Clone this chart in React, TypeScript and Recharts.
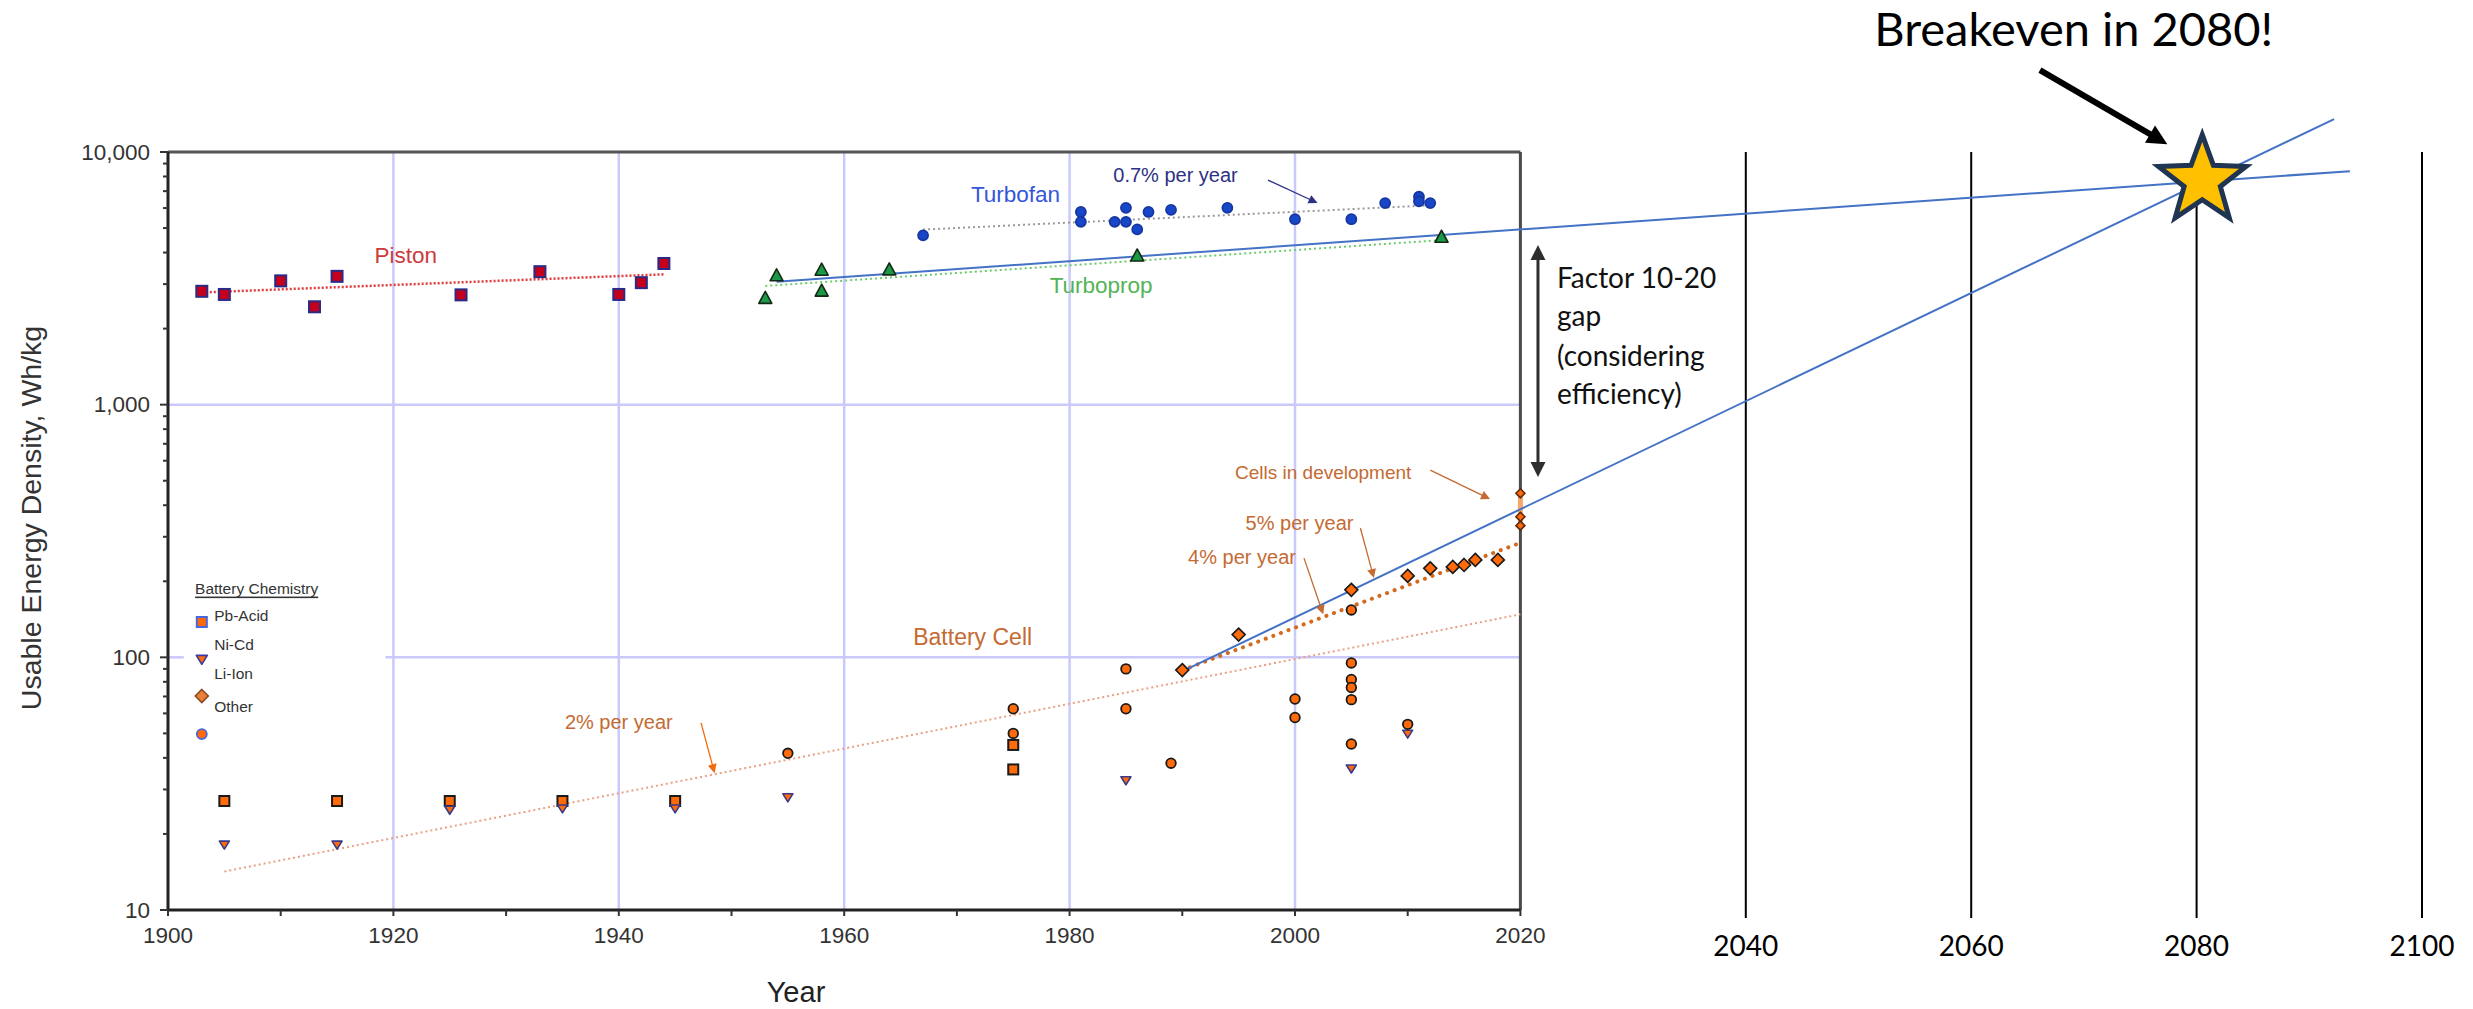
import {
  ComposedChart,
  Label,
  ReferenceDot,
  ReferenceLine,
  Scatter,
  XAxis,
  YAxis,
} from "recharts";

const SANS = "'Liberation Sans', Arial, Helvetica, sans-serif";
const HUMANIST = "Lato, 'Open Sans', sans-serif";

// axis ticks
const yearTicks = [
  1900, 1910, 1920, 1930, 1940, 1950, 1960, 1970, 1980, 1990, 2000, 2010, 2020,
  2040, 2060, 2080, 2100,
];
const labelledYears = [1900, 1920, 1940, 1960, 1980, 2000, 2020];
const futureYears = [2040, 2060, 2080, 2100];
const densityTicks = [
  10, 20, 30, 40, 50, 60, 70, 80, 90, 100, 200, 300, 400, 500, 600, 700, 800,
  900, 1000, 2000, 3000, 4000, 5000, 6000, 7000, 8000, 9000, 10000,
];
const decadeValues = [10, 100, 1000, 10000];
const decadeLabels = ["10", "100", "1,000", "10,000"];
const gridYears = [1920, 1940, 1960, 1980, 2000];

// aircraft engines (Wh/kg)
const pistonYears = [1903, 1905, 1910, 1913, 1915, 1926, 1933, 1940, 1942, 1944];
const pistonWhKg = [2810, 2730, 3090, 2440, 3220, 2720, 3360, 2730, 3040, 3620];
const turbopropYears = [1953, 1954, 1958, 1958, 1964, 1986, 2013];
const turbopropWhKg = [2630, 3230, 3400, 2810, 3410, 3870, 4590];
const turbofanYears = [
  1967, 1981, 1981, 1984, 1985, 1985, 1986, 1987, 1989, 1994, 2000, 2005, 2008,
  2011, 2011, 2012,
];
const turbofanWhKg = [
  4680, 5790, 5290, 5290, 6010, 5290, 4940, 5790, 5900, 6010, 5420, 5420, 6280,
  6650, 6380, 6280,
];

// battery cells (Wh/kg)
const pbAcidYears = [1905, 1915, 1925, 1935, 1945, 1975, 1975];
const pbAcidWhKg = [27, 27, 27, 27, 27, 45, 36];
const niCdYears = [1905, 1915, 1925, 1935, 1945, 1955, 1985, 2005, 2010];
const niCdWhKg = [18.2, 18.2, 25, 25.3, 25.3, 28, 32.7, 36.4, 50];
const liIonYears = [1990, 1995, 2005, 2010, 2012, 2014, 2015, 2016, 2018];
const liIonWhKg = [89, 123, 185, 210, 225, 228, 232, 243, 243];
const otherYears = [
  1955, 1975, 1975, 1985, 1985, 1989, 2000, 2000, 2005, 2005, 2005, 2005, 2005,
  2005, 2010,
];
const otherWhKg = [
  41.7, 62.6, 50, 90, 62.6, 38.1, 68.4, 57.8, 154, 95, 81.7, 76, 68, 45.4, 54.3,
];
const devYears = [2020, 2020, 2020];
const devWhKg = [446, 360, 332];

// trend lines: [start, end]
const pistonTrendYears = [1903, 1944];
const pistonTrendWhKg = [2780, 3280];
const turbofanTrendYears = [1967, 2012];
const turbofanTrendWhKg = [4930, 6150];
const turbopropTrendYears = [1953, 2013];
const turbopropTrendWhKg = [2950, 4480];
const cell2TrendYears = [1905, 2020];
const cell2TrendWhKg = [14.2, 148];
const cell4TrendYears = [1990, 2020];
const cell4TrendWhKg = [89, 284];
const jetProjectionYears = [1954, 2093.6];
const jetProjectionWhKg = [3065, 8400];
const cellProjectionYears = [1990, 2092.2];
const cellProjectionWhKg = [88, 13500];
const breakevenYear = 2080.5;
const breakevenWhKg = 7700;

const zip = (xs: number[], ys: number[]) =>
  xs.map((year, i) => ({ year, value: ys[i] }));
const seg = (xs: number[], ys: number[]) =>
  zip(xs, ys).map((p) => ({ x: p.year, y: p.value }));

const NAVY = "#2d3185";
const BROWN = "#c46a32";
const ORANGE = "#ff6a0a";

const notes = [
  { text: "Piston", year: 1921.1, value: 3900, color: "#cc3b3b", size: 22.5 },
  { text: "Turbofan", year: 1975.2, value: 6810, color: "#3556d8", size: 22.5 },
  { text: "Turboprop", year: 1982.8, value: 2970, color: "#52b455", size: 22.5 },
  { text: "0.7% per year", year: 1989.4, value: 8100, color: NAVY, size: 20 },
  { text: "Battery Cell", year: 1971.4, value: 120.3, color: BROWN, size: 23 },
  { text: "2% per year", year: 1940.0, value: 55.5, color: BROWN, size: 20 },
  { text: "4% per year", year: 1995.3, value: 250, color: BROWN, size: 20 },
  { text: "5% per year", year: 2000.4, value: 340, color: BROWN, size: 20 },
  { text: "Cells in development", year: 2002.5, value: 541, color: BROWN, size: 19 },
];

const pointers = [
  { from: [1997.6, 7744], to: [2002.0, 6280], color: NAVY },
  { from: [2012.0, 551], to: [2017.3, 423], color: BROWN },
  { from: [2005.8, 325], to: [2007.0, 206], color: BROWN },
  { from: [2000.8, 247], to: [2002.5, 148], color: BROWN },
  { from: [1947.3, 55], to: [1948.5, 34.8], color: "#f06a10" },
];

const gapLines = ["Factor 10-20", "gap", "(considering", "efficiency)"];
const gapLineWhKg = [3199, 2263, 1572, 1112];

const legendLabels = ["Pb-Acid", "Ni-Cd", "Li-Ion", "Other"];
const legendLabelWhKg = [147, 112, 86, 63.6];
const legendMarkWhKg = [138, 98.5, 70.3, 49.7];

// marker shapes
const squareMark = (fill: string, edge: string, size: number) => (p: any) => (
  <rect
    x={p.cx - size / 2}
    y={p.cy - size / 2}
    width={size}
    height={size}
    fill={fill}
    stroke={edge}
    strokeWidth={2}
  />
);
const circleMark = (fill: string, edge: string, r: number) => (p: any) => (
  <circle cx={p.cx} cy={p.cy} r={r} fill={fill} stroke={edge} strokeWidth={1.8} />
);
const diamondMark = (fill: string, edge: string, h: number) => (p: any) => (
  <polygon
    points={`${p.cx},${p.cy - h} ${p.cx + h},${p.cy} ${p.cx},${p.cy + h} ${p.cx - h},${p.cy}`}
    fill={fill}
    stroke={edge}
    strokeWidth={1.6}
  />
);
const triangleMark =
  (fill: string, edge: string, w: number, h: number, down: boolean) =>
  (p: any) => {
    const s = down ? -1 : 1;
    const apex = p.cy - s * h * 0.6;
    const base = p.cy + s * h * 0.4;
    return (
      <polygon
        points={`${p.cx},${apex} ${p.cx - w / 2},${base} ${p.cx + w / 2},${base}`}
        fill={fill}
        stroke={edge}
        strokeWidth={1.6}
        strokeLinejoin="round"
      />
    );
  };
const starMark = (p: any) => {
  const pts: string[] = [];
  for (let i = 0; i < 10; i++) {
    const r = i % 2 === 0 ? 46 : 19;
    const a = -Math.PI / 2 + (i * Math.PI) / 5;
    pts.push(`${p.cx + r * Math.cos(a)},${p.cy + r * Math.sin(a)}`);
  }
  return (
    <polygon
      points={pts.join(" ")}
      fill="#ffc000"
      stroke="#1f3552"
      strokeWidth={5}
      strokeLinejoin="miter"
    />
  );
};

const arrowShape =
  (color: string, width: number, head: number, both = false) => (p: any) => {
    const { x1, y1, x2, y2 } = p;
    const len = Math.hypot(x2 - x1, y2 - y1) || 1;
    const ux = (x2 - x1) / len;
    const uy = (y2 - y1) / len;
    const hw = head * 0.5;
    const tip = (tx: number, ty: number, sx: number, sy: number) => {
      const bx = tx - sx * head;
      const by = ty - sy * head;
      return `${tx},${ty} ${bx - sy * hw},${by + sx * hw} ${bx + sy * hw},${by - sx * hw}`;
    };
    return (
      <g>
        <line
          x1={both ? x1 + ux * head * 0.8 : x1}
          y1={both ? y1 + uy * head * 0.8 : y1}
          x2={x2 - ux * head * 0.8}
          y2={y2 - uy * head * 0.8}
          stroke={color}
          strokeWidth={width}
        />
        <polygon points={tip(x2, y2, ux, uy)} fill={color} />
        {both && <polygon points={tip(x1, y1, -ux, -uy)} fill={color} />}
      </g>
    );
  };

const textShape =
  (text: string, color: string, size: number, family: string, anchor = "middle") =>
  (p: any) => (
    <text
      x={p.cx}
      y={p.cy}
      textAnchor={anchor}
      dominantBaseline="central"
      fontFamily={family}
      fontSize={size}
      fill={color}
    >
      {text}
    </text>
  );

function YearTick(props: any) {
  const { x, y, payload } = props;
  const year: number = payload.value;
  if (futureYears.includes(year)) {
    return (
      <text
        x={x}
        y={y + 35}
        textAnchor="middle"
        dominantBaseline="central"
        fontFamily={HUMANIST}
        fontSize={28}
        fill="#000"
      >
        {year}
      </text>
    );
  }
  return (
    <g>
      <line x1={x} x2={x} y1={y} y2={y + 6} stroke="#333" strokeWidth={2} />
      {labelledYears.includes(year) && (
        <text
          x={x}
          y={y + 25}
          textAnchor="middle"
          dominantBaseline="central"
          fontFamily={SANS}
          fontSize={22.5}
          fill="#333"
        >
          {year}
        </text>
      )}
    </g>
  );
}

function DensityTick(props: any) {
  const { x, y, payload } = props;
  const idx = decadeValues.indexOf(payload.value);
  return (
    <g>
      <line
        x1={x - (idx >= 0 ? 8 : 5)}
        x2={x}
        y1={y}
        y2={y}
        stroke="#333"
        strokeWidth={2}
      />
      {idx >= 0 && (
        <text
          x={x - 18}
          y={y}
          textAnchor="end"
          dominantBaseline="central"
          fontFamily={SANS}
          fontSize={22.5}
          fill="#333"
        >
          {decadeLabels[idx]}
        </text>
      )}
    </g>
  );
}

const yTitle = (p: any) => {
  const vb = p.viewBox ?? { x: 0, y: 152, width: 168, height: 758 };
  const cx = vb.x + 31;
  const cy = vb.y + vb.height / 2 - 13;
  return (
    <text
      x={cx}
      y={cy}
      transform={`rotate(-90 ${cx} ${cy})`}
      textAnchor="middle"
      dominantBaseline="central"
      fontFamily={SANS}
      fontSize={28.5}
      fill="#333"
    >
      Usable Energy Density, Wh/kg
    </text>
  );
};

const xTitle = (p: any) => {
  const vb = p.viewBox ?? { x: 168, y: 910, width: 2254, height: 60 };
  return (
    <text
      x={vb.x + 628}
      y={vb.y + 82}
      textAnchor="middle"
      dominantBaseline="central"
      fontFamily={SANS}
      fontSize={29}
      fill="#222"
    >
      Year
    </text>
  );
};

export default function App() {
  return (
    <div
      style={{
        position: "absolute",
        left: 0,
        top: 0,
        width: 2473,
        height: 1009,
        background: "#fff",
        overflow: "hidden",
      }}
    >
      <ComposedChart
        width={2473}
        height={1009}
        margin={{ top: 152, right: 51, bottom: 39, left: 0 }}
      >
        <XAxis
          type="number"
          dataKey="year"
          domain={[1900, 2100]}
          ticks={yearTicks}
          interval={0}
          axisLine={false}
          tickLine={false}
          tickSize={0}
          tickMargin={0}
          height={60}
          tick={<YearTick />}
          allowDataOverflow
        >
          <Label content={xTitle} />
        </XAxis>
        <YAxis
          type="number"
          dataKey="value"
          scale="log"
          domain={[10, 10000]}
          ticks={densityTicks}
          interval={0}
          axisLine={{ stroke: "#222", strokeWidth: 3 }}
          tickLine={false}
          tickSize={0}
          tickMargin={0}
          width={168}
          tick={<DensityTick />}
          allowDataOverflow
        >
          <Label content={yTitle} />
        </YAxis>

        {/* grid */}
        {gridYears.map((yr) => (
          <ReferenceLine
            key={`gx${yr}`}
            segment={[
              { x: yr, y: 10 },
              { x: yr, y: 10000 },
            ]}
            stroke="#c9c9fb"
            strokeWidth={2.5}
          />
        ))}
        <ReferenceLine
          segment={[
            { x: 1900, y: 1000 },
            { x: 2020, y: 1000 },
          ]}
          stroke="#c9c9fb"
          strokeWidth={2.5}
        />
        <ReferenceLine
          segment={[
            { x: 1900, y: 100 },
            { x: 1901.4, y: 100 },
          ]}
          stroke="#c9c9fb"
          strokeWidth={2.5}
        />
        <ReferenceLine
          segment={[
            { x: 1919.3, y: 100 },
            { x: 2020, y: 100 },
          ]}
          stroke="#c9c9fb"
          strokeWidth={2.5}
        />

        {/* frame */}
        <ReferenceLine
          segment={[
            { x: 1900, y: 10000 },
            { x: 2020, y: 10000 },
          ]}
          stroke="#555"
          strokeWidth={3}
        />
        <ReferenceLine
          segment={[
            { x: 2020, y: 10 },
            { x: 2020, y: 10000 },
          ]}
          stroke="#4a4a4a"
          strokeWidth={3}
        />
        <ReferenceLine
          segment={[
            { x: 1900, y: 10 },
            { x: 2020, y: 10 },
          ]}
          stroke="#222"
          strokeWidth={3}
        />

        {/* future year lines */}
        {futureYears.map((yr) => (
          <ReferenceLine
            key={`fy${yr}`}
            segment={[
              { x: yr, y: 9.3 },
              { x: yr, y: 10000 },
            ]}
            stroke="#000"
            strokeWidth={2}
            ifOverflow="visible"
          />
        ))}

        {/* trends */}
        <ReferenceLine
          segment={seg(pistonTrendYears, pistonTrendWhKg)}
          stroke="#e03a3a"
          strokeWidth={2.5}
          strokeDasharray="2 2"
        />
        <ReferenceLine
          segment={seg(turbofanTrendYears, turbofanTrendWhKg)}
          stroke="#9a9a9a"
          strokeWidth={2}
          strokeDasharray="2 3"
        />
        <ReferenceLine
          segment={seg(turbopropTrendYears, turbopropTrendWhKg)}
          stroke="#6ccc6c"
          strokeWidth={2}
          strokeDasharray="2 3"
        />
        <ReferenceLine
          segment={seg(cell2TrendYears, cell2TrendWhKg)}
          stroke="#e9a084"
          strokeWidth={2}
          strokeDasharray="2 3"
        />
        <ReferenceLine
          segment={seg(cell4TrendYears, cell4TrendWhKg)}
          stroke="#d46a1e"
          strokeWidth={4}
          strokeDasharray="0.1 8"
          strokeLinecap="round"
        />
        <ReferenceLine
          segment={seg(devYears.slice(0, 1).concat(devYears.slice(2)), [devWhKg[2], devWhKg[0]])}
          stroke="#f7a766"
          strokeWidth={5}
        />
        <ReferenceLine
          segment={seg(jetProjectionYears, jetProjectionWhKg)}
          stroke="#4472c4"
          strokeWidth={2}
          ifOverflow="visible"
        />
        <ReferenceLine
          segment={seg(cellProjectionYears, cellProjectionWhKg)}
          stroke="#4472c4"
          strokeWidth={2}
          ifOverflow="visible"
        />

        {/* data points */}
        <Scatter
          data={zip(pistonYears, pistonWhKg)}
          shape={squareMark("#c4001c", "#2b2b86", 11)}
          isAnimationActive={false}
        />
        <Scatter
          data={zip(turbopropYears, turbopropWhKg)}
          shape={triangleMark("#1a9a48", "#142814", 13, 12, false)}
          isAnimationActive={false}
        />
        <Scatter
          data={zip(turbofanYears, turbofanWhKg)}
          shape={circleMark("#1846c8", "#1636a0", 5)}
          isAnimationActive={false}
        />
        <Scatter
          data={zip(pbAcidYears, pbAcidWhKg)}
          shape={squareMark(ORANGE, "#1a1a1a", 10)}
          isAnimationActive={false}
        />
        <Scatter
          data={zip(niCdYears, niCdWhKg)}
          shape={triangleMark(ORANGE, "#3a3a8a", 10, 8, true)}
          isAnimationActive={false}
        />
        <Scatter
          data={zip(otherYears, otherWhKg)}
          shape={circleMark(ORANGE, "#1a1a1a", 4.8)}
          isAnimationActive={false}
        />
        <Scatter
          data={zip(liIonYears, liIonWhKg)}
          shape={diamondMark(ORANGE, "#1a1a1a", 6.5)}
          isAnimationActive={false}
        />
        <Scatter
          data={zip(devYears, devWhKg)}
          shape={diamondMark(ORANGE, "#5a2a10", 4.5)}
          isAnimationActive={false}
        />

        {/* legend */}
        <ReferenceDot
          x={1902.4}
          y={188}
          r={0}
          shape={(p: any) => (
            <text
              x={p.cx}
              y={p.cy}
              dominantBaseline="central"
              fontFamily={SANS}
              fontSize={15.5}
              fill="#333"
              textDecoration="underline"
            >
              Battery Chemistry
            </text>
          )}
        />
        {legendLabels.map((t, i) => (
          <ReferenceDot
            key={`ll${t}`}
            x={1904.1}
            y={legendLabelWhKg[i]}
            r={0}
            shape={textShape(t, "#333", 15.5, SANS, "start")}
          />
        ))}
        <ReferenceDot x={1903} y={legendMarkWhKg[0]} r={0} shape={squareMark(ORANGE, "#4a66dd", 10)} />
        <ReferenceDot x={1903} y={legendMarkWhKg[1]} r={0} shape={triangleMark(ORANGE, "#3a3aa0", 11, 9, true)} />
        <ReferenceDot x={1903} y={legendMarkWhKg[2]} r={0} shape={diamondMark("#e8803a", "#8a4a20", 6.5)} />
        <ReferenceDot x={1903} y={legendMarkWhKg[3]} r={0} shape={circleMark(ORANGE, "#4a66dd", 5)} />

        {/* annotations */}
        {notes.map((n) => (
          <ReferenceDot
            key={n.text}
            x={n.year}
            y={n.value}
            r={0}
            shape={textShape(n.text, n.color, n.size, SANS)}
          />
        ))}
        {pointers.map((a, i) => (
          <ReferenceLine
            key={`pt${i}`}
            segment={[
              { x: a.from[0], y: a.from[1] },
              { x: a.to[0], y: a.to[1] },
            ]}
            shape={arrowShape(a.color, 1.3, 9)}
          />
        ))}
        <ReferenceLine
          segment={[
            { x: 2021.56, y: 517 },
            { x: 2021.56, y: 4281 },
          ]}
          shape={arrowShape("#2e2e2e", 3, 15, true)}
          ifOverflow="visible"
        />
        {gapLines.map((t, i) => (
          <ReferenceDot
            key={t}
            x={2023.25}
            y={gapLineWhKg[i]}
            r={0}
            ifOverflow="visible"
            shape={textShape(t, "#111", 28, HUMANIST, "start")}
          />
        ))}
        <ReferenceLine
          segment={[
            { x: 2066.1, y: 21090 },
            { x: 2077.4, y: 10740 },
          ]}
          shape={arrowShape("#000", 6, 20)}
          ifOverflow="visible"
        />
        <ReferenceDot
          x={2069.1}
          y={30900}
          r={0}
          ifOverflow="visible"
          shape={textShape("Breakeven in 2080!", "#000", 47, HUMANIST)}
        />
        <ReferenceDot
          x={breakevenYear}
          y={breakevenWhKg}
          r={0}
          ifOverflow="visible"
          shape={starMark}
        />
      </ComposedChart>
    </div>
  );
}
